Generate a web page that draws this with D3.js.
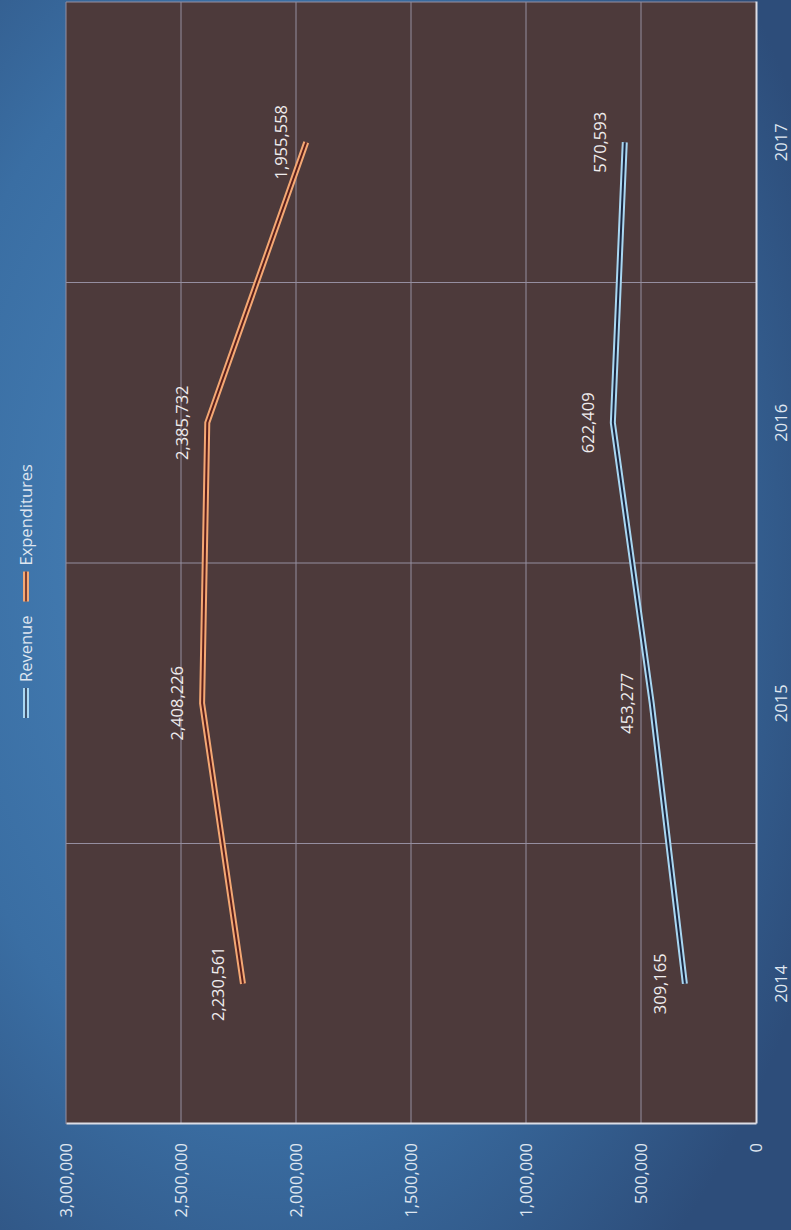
<!DOCTYPE html>
<meta charset="utf-8">
<style>
body { margin: 0; background: #2f5f92; }
svg { display: block; }
text { font-family: "Open Sans", sans-serif; }
</style>
<body>
<script src="https://cdn.jsdelivr.net/npm/d3@7"></script>
<script>

var years = ["2014", "2015", "2016", "2017"];
var revenue = [309165, 453277, 622409, 570593];
var expenditures = [2230561, 2408226, 2385732, 1955558];
var valueTicks = [0, 500000, 1000000, 1500000, 2000000, 2500000, 3000000];

var W = 791, H = 1230;

var svg = d3.select("body").append("svg")
    .attr("width", W)
    .attr("height", H);

var defs = svg.append("defs");
var bg = defs.append("radialGradient")
    .attr("id", "bg")
    .attr("cx", "35%").attr("cy", "45%").attr("r", "75%");
bg.append("stop").attr("offset", "0%").attr("stop-color", "#4a86bd");
bg.append("stop").attr("offset", "60%").attr("stop-color", "#3a6ea3");
bg.append("stop").attr("offset", "100%").attr("stop-color", "#2d4d7a");

svg.append("rect")
    .attr("width", W)
    .attr("height", H)
    .attr("fill", "url(#bg)");

// chart is drawn upright then turned a quarter to the left
var g = svg.append("g")
    .attr("transform", "translate(0," + H + ") rotate(-90)");

var plotL = 106, plotR = 1228, plotT = 66, plotB = 756;

var x = d3.scaleBand()
    .domain(years)
    .range([plotL, plotR]);

var y = d3.scaleLinear()
    .domain([0, 3000000])
    .range([plotB, plotT]);

g.append("rect")
    .attr("x", plotL)
    .attr("y", plotT)
    .attr("width", plotR - plotL)
    .attr("height", plotB - plotT)
    .attr("fill", "#4d3a3b");

// value grid
g.selectAll(".hgrid")
  .data(valueTicks.slice(1))
  .enter().append("line")
    .attr("x1", plotL)
    .attr("x2", plotR)
    .attr("y1", function(d) { return y(d); })
    .attr("y2", function(d) { return y(d); })
    .attr("stroke", "#958ea0")
    .attr("stroke-width", 1);

// category grid
g.selectAll(".vgrid")
  .data(years.slice(1))
  .enter().append("line")
    .attr("x1", function(d) { return x(d); })
    .attr("x2", function(d) { return x(d); })
    .attr("y1", plotT)
    .attr("y2", plotB)
    .attr("stroke", "#958ea0")
    .attr("stroke-width", 1);

g.append("line")
    .attr("x1", plotR).attr("x2", plotR)
    .attr("y1", plotT).attr("y2", plotB)
    .attr("stroke", "#958ea0");

// axes
var yAxis = g.append("g")
    .attr("transform", "translate(" + plotL + ",0)")
    .call(d3.axisLeft(y).tickValues(valueTicks).tickFormat(d3.format(",")).tickSize(0).tickPadding(19));
yAxis.select(".domain").attr("stroke", "#dcdde6").attr("stroke-width", 2);

var xAxis = g.append("g")
    .attr("transform", "translate(0," + plotB + ")")
    .call(d3.axisBottom(x).tickSize(0).tickPadding(19));
xAxis.select(".domain").attr("stroke", "#dcdde6").attr("stroke-width", 2);

g.selectAll(".tick text")
    .attr("fill", "#dfe6f0")
    .style("font-size", "16.5px")
    .style("font-family", "'Open Sans', sans-serif");

// series
var series = [
  {name: "Revenue", values: revenue, outer: "#a9d7f2", inner: "#1c2740"},
  {name: "Expenditures", values: expenditures, outer: "#f4a874", inner: "#5a1f1c"}
];

var line = d3.line()
    .x(function(d, i) { return x(years[i]) + x.bandwidth() / 2; })
    .y(function(d) { return y(d); });

series.forEach(function(s) {
  g.append("path")
      .attr("d", line(s.values))
      .attr("fill", "none")
      .attr("stroke", s.outer)
      .attr("stroke-width", 6);
  g.append("path")
      .attr("d", line(s.values))
      .attr("fill", "none")
      .attr("stroke", s.inner)
      .attr("stroke-width", 2);

  g.selectAll(null)
    .data(s.values)
    .enter().append("text")
      .attr("x", function(d, i) { return x(years[i]) + x.bandwidth() / 2; })
      .attr("y", function(d) { return y(d) - 19; })
      .attr("text-anchor", "middle")
      .attr("fill", "#efeced")
      .style("font-size", "16.5px")
      .text(d3.format(","));
});

// legend
var legend = g.append("g")
    .attr("transform", "translate(512,26)");

var lx = 0;
series.forEach(function(s) {
  var item = legend.append("g").attr("transform", "translate(" + lx + ",0)");
  item.append("line")
      .attr("x1", 0).attr("x2", 30)
      .attr("stroke", s.outer).attr("stroke-width", 6);
  item.append("line")
      .attr("x1", 0).attr("x2", 30)
      .attr("stroke", s.inner).attr("stroke-width", 1.5);
  var t = item.append("text")
      .attr("x", 36)
      .attr("dy", "0.35em")
      .attr("fill", "#dfe6f0")
      .style("font-size", "16.5px")
      .text(s.name);
  lx += 36 + t.node().getComputedTextLength() + 14;
});

</script>
</body>
